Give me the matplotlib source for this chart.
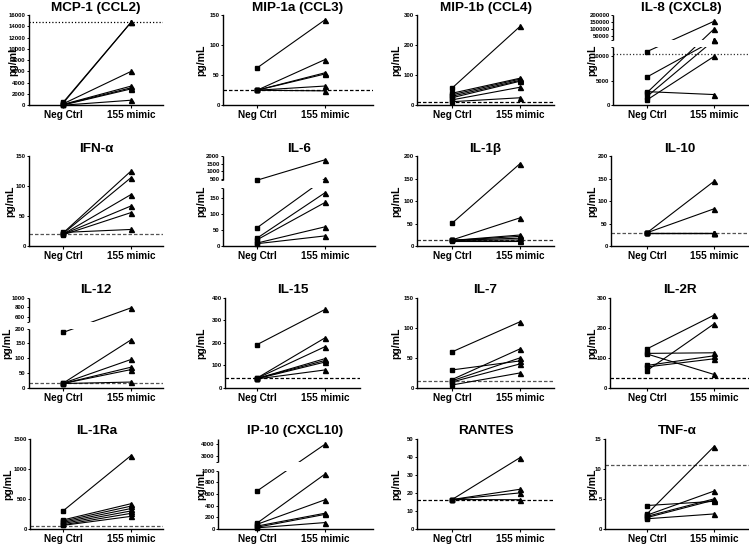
import numpy as np
import matplotlib
matplotlib.use("Agg")
from matplotlib import pyplot as plt
from matplotlib.patches import Rectangle
from matplotlib.ticker import NullLocator

plt.rcParams['font.family'] = ['Liberation Sans', 'DejaVu Sans']

# groups on the x axis
groups = ["Neg Ctrl", "155 mimic"]

# values (pg/mL), one entry per donor
mcp1_neg = [500, 350, 250, 150, 100, 50, 20]
mcp1_mimic = [14700, 14700, 6000, 3400, 3100, 2900, 900]
mcp1_cut = 14700

mip1a_neg = [62, 25, 25, 25, 25, 25]
mip1a_mimic = [142, 76, 54, 52, 32, 24]
mip1a_cut = 25

mip1b_neg = [57, 40, 35, 30, 25, 18, 12]
mip1b_mimic = [262, 90, 87, 83, 80, 60, 25]
mip1b_cut = 10

il8_neg = [11000, 5800, 2800, 2600, 1800, 1100]
il8_mimic = [155000, 20000, 2200, 100000, 20000, 10000]
il8_cut = 10600

ifna_neg = [22, 21, 20, 20, 19, 23]
ifna_mimic = [125, 114, 86, 67, 56, 28]
ifna_cut = 20

il6_neg = [400, 57, 25, 20, 10, 8]
il6_mimic = [1750, 500, 165, 135, 60, 32]

il1b_neg = [51, 14, 13, 13, 13, 13, 12]
il1b_mimic = [183, 63, 25, 22, 18, 14, 12]
il1b_cut = 14

il10_neg = [30, 30, 30, 30, 30, 30]
il10_mimic = [144, 83, 30, 30, 30, 30]
il10_cut = 30

il12_neg = [187, 16, 16, 15, 15, 15]
il12_mimic = [790, 162, 96, 70, 62, 20]
il12_cut = 17

il15_neg = [192, 44, 43, 42, 42, 41, 40]
il15_mimic = [348, 222, 183, 130, 122, 115, 80]
il15_cut = 43

il7_neg = [60, 30, 14, 12, 10, 5]
il7_mimic = [110, 45, 65, 50, 40, 25]
il7_cut = 11

il2r_neg = [130, 115, 113, 75, 70, 58]
il2r_mimic = [242, 117, 45, 107, 97, 213]
il2r_cut = 33

il1ra_neg = [300, 150, 130, 110, 90, 70, 60]
il1ra_mimic = [1220, 420, 380, 340, 300, 260, 210]
il1ra_cut = 50

ip10_neg = [650, 100, 80, 50, 30, 20]
ip10_mimic = [3950, 940, 500, 270, 250, 110]

rantes_neg = [16.3, 16.3, 16.3, 16.3]
rantes_mimic = [39.5, 22, 20, 16.2]
rantes_cut = 16.2

tnfa_neg = [3.9, 2.5, 2.3, 2.1, 1.9, 1.7]
tnfa_mimic = [4.6, 13.7, 6.3, 5.0, 4.8, 2.5]
tnfa_cut = 10.6

# y tick labels
mcp1_ticks = [0, 2000, 4000, 6000, 8000, 10000, 12000, 14000, 16000]
ticks_150 = [0, 50, 100, 150]
ticks_200 = [0, 50, 100, 150, 200]
ticks_300 = [0, 100, 200, 300]
il8_ticks = [0, 5000, 10000, 50000, 100000, 150000, 200000]
il6_ticks = [0, 50, 100, 150, 500, 1000, 1500, 2000]
il12_ticks = [0, 50, 100, 150, 200, 600, 800, 1000]
il15_ticks = [0, 100, 200, 300, 400]
il1ra_ticks = [0, 500, 1000, 1500]
ip10_ticks = [0, 200, 400, 600, 800, 1000, 3000, 4000]
rantes_ticks = [0, 10, 20, 30, 40, 50]
tnfa_ticks = [0, 5, 10, 15]

W, H = 749, 544
ROW_TOP = [15, 156, 297.7, 438.7]
AX_H = 90.3
COL_LEFT = [28.5, 223, 417, 611]
COL_RIGHT = [163, 373, 554, 749]
COL_TICKS = [(63, 131), (257, 325), (452, 520), (647, 714)]
COL_LABX = [14, 206.7, 401, 597.5]

DASH = (0, (2.8, 1.6))
DOT = (0, (1.0, 1.6))

# panel table, built from the arrays above
panels = [
    dict(r=0, c=0, title="MCP-1 (CCL2)", neg=mcp1_neg, mim=mcp1_mimic, ymax=16000,
         ticks=mcp1_ticks, cut=mcp1_cut, ls=DOT, cc='black', labx=18.3),
    dict(r=0, c=1, title="MIP-1a (CCL3)", neg=mip1a_neg, mim=mip1a_mimic, ymax=150,
         ticks=ticks_150, cut=mip1a_cut, ls=DASH, cc='black'),
    dict(r=0, c=2, title="MIP-1b (CCL4)", neg=mip1b_neg, mim=mip1b_mimic, ymax=300,
         ticks=ticks_300, cut=mip1b_cut, ls=DASH, cc='black'),
    dict(r=0, c=3, title="IL-8 (CXCL8)", neg=il8_neg, mim=il8_mimic, ymax=200000,
         ticks=il8_ticks, cut=il8_cut, ls=DOT, cc='#333333', left=613,
         brk=(12000, 20000, 0.649, 0.072)),
    dict(r=1, c=0, title="IFN-α", neg=ifna_neg, mim=ifna_mimic, ymax=150,
         ticks=ticks_150, cut=ifna_cut, ls=DASH, cc='#555555', left=29.3, labx=15),
    dict(r=1, c=1, title="IL-6", neg=il6_neg, mim=il6_mimic, ymax=2000,
         ticks=il6_ticks, right=375, brk=(180, 400, 0.647, 0.085)),
    dict(r=1, c=2, title="IL-1β", neg=il1b_neg, mim=il1b_mimic, ymax=200,
         ticks=ticks_200, cut=il1b_cut, ls=DASH, cc='#333333'),
    dict(r=1, c=3, title="IL-10", neg=il10_neg, mim=il10_mimic, ymax=200,
         ticks=ticks_200, cut=il10_cut, ls=DASH, cc='#555555'),
    dict(r=2, c=0, title="IL-12", neg=il12_neg, mim=il12_mimic, ymax=1000,
         ticks=il12_ticks, cut=il12_cut, ls=DASH, cc='#555555', labx=12.7,
         brk=(200, 500, 0.658, 0.074)),
    dict(r=2, c=1, title="IL-15", neg=il15_neg, mim=il15_mimic, ymax=400,
         ticks=il15_ticks, cut=il15_cut, ls=DASH, cc='black', left=225, right=360),
    dict(r=2, c=2, title="IL-7", neg=il7_neg, mim=il7_mimic, ymax=150,
         ticks=ticks_150, cut=il7_cut, ls=DASH, cc='#555555'),
    dict(r=2, c=3, title="IL-2R", neg=il2r_neg, mim=il2r_mimic, ymax=300,
         ticks=ticks_300, cut=il2r_cut, ls=DASH, cc='black', left=610),
    dict(r=3, c=0, title="IL-1Ra", neg=il1ra_neg, mim=il1ra_mimic, ymax=1500,
         ticks=il1ra_ticks, cut=il1ra_cut, ls=DASH, cc='#555555', left=30, labx=13.3),
    dict(r=3, c=1, title="IP-10 (CXCL10)", neg=ip10_neg, mim=ip10_mimic, ymax=4400,
         ticks=ip10_ticks, left=218, brk=(1000, 2500, 0.647, 0.094)),
    dict(r=3, c=2, title="RANTES", neg=rantes_neg, mim=rantes_mimic, ymax=50,
         ticks=rantes_ticks, cut=rantes_cut, ls=DASH, cc='black'),
    dict(r=3, c=3, title="TNF-α", neg=tnfa_neg, mim=tnfa_mimic, ymax=15,
         ticks=tnfa_ticks, cut=tnfa_cut, ls=DASH, cc='#555555', left=605),
]


#piecewise linear map with linear extension past both ends
def piecewise(xp, fp):
    xp = np.asarray(xp, float)
    fp = np.asarray(fp, float)

    def f(v):
        v = np.asarray(v, float)
        out = np.interp(v, xp, fp)
        out = np.where(v < xp[0], fp[0] + (v - xp[0]) * (fp[1] - fp[0]) / (xp[1] - xp[0]), out)
        out = np.where(v > xp[-1], fp[-1] + (v - xp[-1]) * (fp[-1] - fp[-2]) / (xp[-1] - xp[-2]), out)
        return out
    return f


def draw_panel(fig, p):
    r, c = p['r'], p['c']
    left = p.get('left', COL_LEFT[c])
    right = p.get('right', COL_RIGHT[c])
    top = ROW_TOP[r]
    ax = fig.add_axes([left / W, 1 - (top + AX_H) / H, (right - left) / W, AX_H / H])

    # x limits so that the two groups land on the same pixels as the original
    x0, x1 = COL_TICKS[c]
    scale = x1 - x0
    ax.set_xlim((left - x0) / scale, (right - x0) / scale)

    ymax = p['ymax']
    brk = p.get('brk')
    ticks = list(p['ticks'])
    labels = [str(t) for t in ticks]
    if brk:
        lo_top, hi_bot, fl, fg = brk
        vals = [0, lo_top, hi_bot, ymax]
        fr = [0, fl, fl + fg, 1]
        ax.set_yscale('function', functions=(piecewise(vals, fr), piecewise(fr, vals)))
        # little marks at the ends of both axis pieces
        for extra in (lo_top, hi_bot):
            if extra not in ticks:
                ticks.append(extra)
                labels.append("")
    ax.set_ylim(0, ymax)
    ax.yaxis.set_minor_locator(NullLocator())

    for a, b in zip(p['neg'], p['mim']):
        ax.plot([0, 1], [a, b], color='black', lw=0.8, zorder=2)
    ax.plot(np.zeros(len(p['neg'])), p['neg'], ls='none', marker='s', ms=3.3,
            color='black', zorder=5, clip_on=False)
    ax.plot(np.ones(len(p['mim'])), p['mim'], ls='none', marker='^', ms=3.6,
            color='black', zorder=5, clip_on=False)

    if p.get('cut') is not None:
        ax.axhline(p['cut'], color=p['cc'], lw=0.9, ls=p['ls'], zorder=1.5)

    for side in ('top', 'right'):
        ax.spines[side].set_visible(False)
    ax.spines['bottom'].set_linewidth(1.0)
    ax.spines['left'].set_linewidth(1.0)

    if brk:
        # split left axis and blank out the gap
        ax.spines['left'].set_visible(False)
        tr = ax.get_yaxis_transform()
        ax.plot([0, 0], [0, lo_top], transform=tr, color='black', lw=1.0,
                clip_on=False, solid_capstyle='butt', zorder=6)
        ax.plot([0, 0], [hi_bot, ymax], transform=tr, color='black', lw=1.0,
                clip_on=False, solid_capstyle='butt', zorder=6)
        ax.add_patch(Rectangle((0.005, lo_top), 1, hi_bot - lo_top, transform=tr,
                               facecolor='white', edgecolor='none', zorder=3))

    ax.set_yticks(ticks)
    ax.set_yticklabels(labels, fontsize=4.3, fontweight='bold')
    ax.tick_params(axis='y', length=1.8, width=0.7, pad=0.6)
    ax.set_xticks([0, 1])
    ax.set_xticklabels(groups, fontsize=7.2, fontweight='bold')
    ax.tick_params(axis='x', length=2.5, width=0.8, pad=1.2)

    ax.set_title(p['title'], fontsize=9.7, fontweight='bold', pad=3.2)
    ax.set_ylabel("pg/mL", fontsize=7.6, fontweight='bold')
    labx = p.get('labx', COL_LABX[c])
    ax.yaxis.set_label_coords((labx - left) / (right - left), 0.5)
    return ax


fig = plt.figure(figsize=(W / 100, H / 100), dpi=100)
for p in panels:
    draw_panel(fig, p)

fig.savefig("out.png", dpi=100)
plt.close()
